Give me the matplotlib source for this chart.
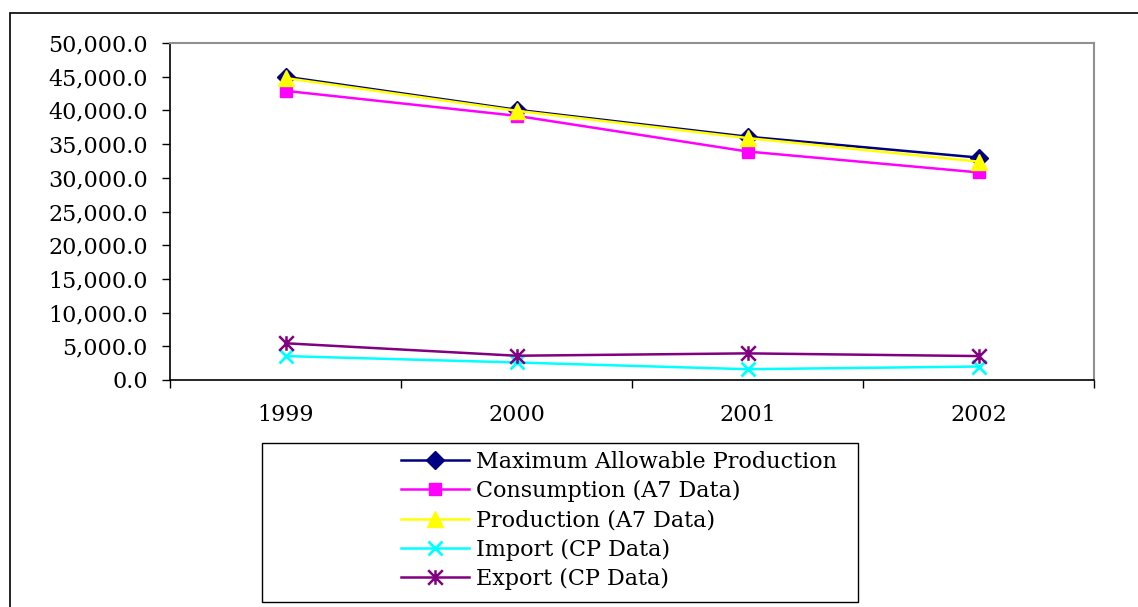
import matplotlib
matplotlib.use("Agg")
import matplotlib.pyplot as plt
from matplotlib.patches import Rectangle
from matplotlib.path import Path
from matplotlib.ticker import FixedLocator, FuncFormatter

years = ["1999", "2000", "2001", "2002"]
max_allowable = [45000, 40100, 36100, 33000]
consumption = [42900, 39200, 33900, 30800]
production = [44800, 39950, 35900, 32400]
imports = [3550, 2600, 1600, 2000]
exports = [5450, 3600, 3950, 3550]
labels = ["Maximum Allowable Production", "Consumption (A7 Data)",
          "Production (A7 Data)", "Import (CP Data)", "Export (CP Data)"]

plt.rcParams['font.family'] = ['DejaVu Serif']
FS = 16

W, H = 1138, 607
fig = plt.figure(figsize=(W / 100, H / 100), dpi=100)
ax = fig.add_axes([170 / W, 1 - 380 / H, (1094 - 170) / W, (380 - 43) / H])

star = Path([(0, -1), (0, 1), (-1, -1), (1, 1), (-1, 1), (1, -1)],
            [Path.MOVETO, Path.LINETO, Path.MOVETO, Path.LINETO, Path.MOVETO, Path.LINETO])

x = list(range(len(years)))
ax.plot(x, max_allowable, color='#000080', lw=1.8, marker='D', ms=9, label=labels[0])
ax.plot(x, consumption, color='#FF00FF', lw=1.8, marker='s', ms=8, label=labels[1])
ax.plot(x, production, color='#FFFF00', lw=1.8, marker='^', ms=11, label=labels[2])
ax.plot(x, imports, color='#00FFFF', lw=1.8, marker='x', ms=9.5, mew=2, label=labels[3])
ax.plot(x, exports, color='#800080', lw=1.8, marker=star, ms=10.5, mew=1.8, label=labels[4])

ax.set_xlim(-0.5, len(years) - 0.5)
ax.set_ylim(0, 50000)
ax.yaxis.set_major_locator(FixedLocator(range(0, 50001, 5000)))
ax.yaxis.set_major_formatter(FuncFormatter(lambda v, p: f"{v:,.1f}"))
ax.xaxis.set_major_locator(FixedLocator([i - 0.5 for i in range(len(years) + 1)]))
ax.xaxis.set_major_formatter(FuncFormatter(lambda v, p: ""))
ax.xaxis.set_minor_locator(FixedLocator(x))
ax.set_xticklabels(years, minor=True)
ax.tick_params(axis='y', direction='out', length=6, width=1, pad=10, labelsize=FS)
ax.tick_params(axis='x', which='major', direction='out', length=6, width=1)
ax.tick_params(axis='x', which='minor', length=0, pad=17, labelsize=FS)

for s in ['top', 'right']:
    ax.spines[s].set_color('#909090')
    ax.spines[s].set_linewidth(1.5)
for s in ['left', 'bottom']:
    ax.spines[s].set_color('black')
    ax.spines[s].set_linewidth(1.2)

# outer chart border
fig.patches.append(Rectangle((10 / W, -0.05), 1.1, (1 - 13 / H) + 0.05, transform=fig.transFigure,
                             fill=False, edgecolor='black', lw=1.2))
# legend box
fig.patches.append(Rectangle((262 / W, 1 - 602 / H), (858 - 262) / W, (602 - 443) / H,
                             transform=fig.transFigure, fill=False, edgecolor='black', lw=1.0))

handles, labs = ax.get_legend_handles_labels()
fig.legend(handles, labs, loc='upper left', bbox_to_anchor=(401 / W, 1 - 451 / H),
           frameon=False, fontsize=FS, handlelength=3.06, handletextpad=0.32,
           labelspacing=0.32, borderpad=0, borderaxespad=0)

fig.savefig("out.png", dpi=100)
